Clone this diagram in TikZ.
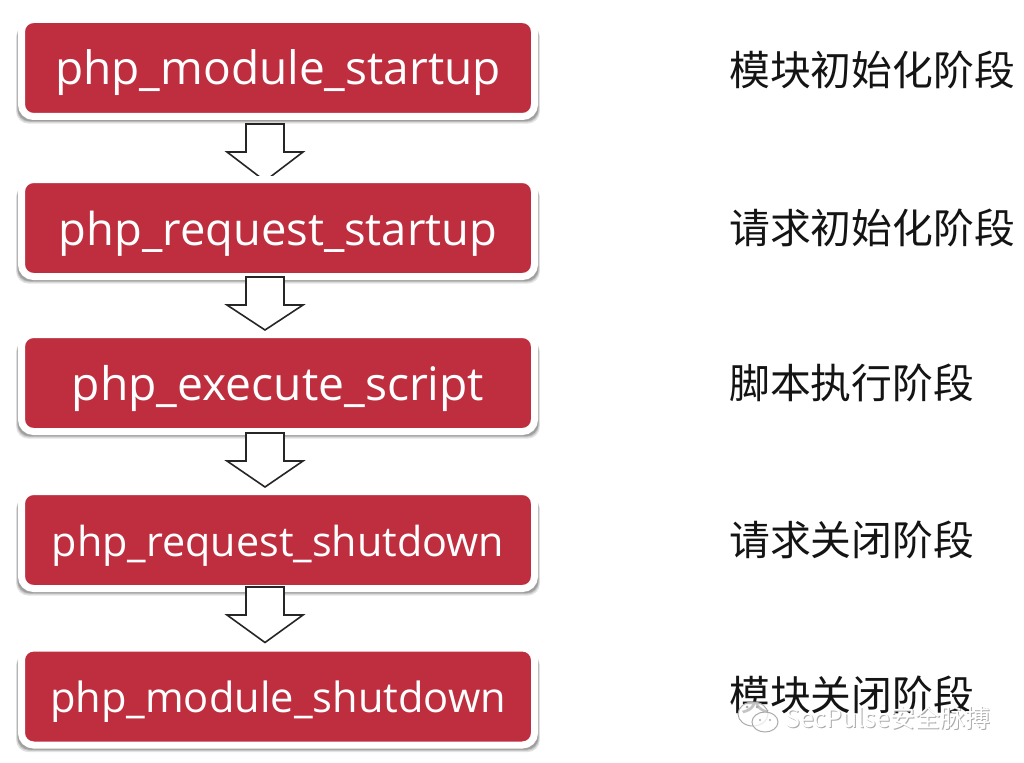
\documentclass[tikz,border=0pt]{standalone}
\usepackage{fontspec}
\setmainfont{Open Sans}
\newfontfamily\cjk{Noto Sans CJK SC}
\usetikzlibrary{shadows,calc}
\definecolor{boxred}{HTML}{BF2E3E}
\definecolor{wmgrey}{HTML}{ABABAB}
\pgfdeclarelayer{under}
\pgfdeclarelayer{over}
\pgfsetlayers{under,main,over}
\tikzset{
  x=1pt,y=-1pt,
  softshadow/.style 2 args={general shadow={shadow scale=#1,shadow xshift=0pt,shadow yshift=-#2,fill=black,opacity=.11}},
  stagebox/.style={rounded corners=12pt,draw=white,line width=7pt,fill=boxred,minimum width=513pt,minimum height=97pt,
    inner sep=0pt,text=white,softshadow={1.021}{6pt},softshadow={1.018}{5pt},softshadow={1.016}{4.2pt},softshadow={1.015}{3.8pt}},
  blockarrow/.style={draw=black!85,line width=1.6pt,fill=white,line join=miter},
  phaselabel/.style={anchor=west,inner sep=0pt,text=black!92,font=\cjk\fontsize{40.8}{46}\selectfont},
  wmtext/.style={anchor=west,inner sep=0pt,font=\cjk\fontsize{25}{28}\selectfont},
}
\newcommand{\boxfont}[1]{\fontsize{#1}{50}\selectfont}
% text set with its baseline the given distance below the box centre
\newcommand{\boxtext}[2]{\raisebox{-#1pt}[0pt][0pt]{#2}}
% from node, to node, top offset below the from-node, tip offset below the to-node's top
\newcommand{\blockarr}[4]{%
  \path[blockarrow] ($(#1.south)+(-32,#3)$) -- ($(#1.south)+(6,#3)$) -- ($(#1.south)+(6,#3+28)$) -- ($(#1.south)+(25,#3+28)$)
    -- ($(#2.north)+(-13,#4)$) -- ($(#1.south)+(-51,#3+28)$) -- ($(#1.south)+(-32,#3+28)$) -- cycle;}
\begin{document}
\begin{tikzpicture}
\begin{pgfonlayer}{under}
\fill[white] (0,0) rectangle (1024,762);
\end{pgfonlayer}
\useasboundingbox (0,0) rectangle (1024,762);
\node[stagebox,font=\boxfont{46}] (b1) at (278,68) {\boxtext{17}{php\_module\_startup}};
\node[stagebox,font=\boxfont{45.3}] (b2) at (278,228) {\boxtext{17}{php\_request\_startup}};
\node[stagebox,font=\boxfont{46.2}] (b3) at (278,383) {\boxtext{17}{php\_execute\_script}};
\node[stagebox,font=\boxfont{41.3}] (b4) at (278,540) {\boxtext{16}{php\_request\_shutdown}};
\node[stagebox,font=\boxfont{41.6}] (b5) at (278,696.5) {\boxtext{15.5}{php\_module\_shutdown}};
\begin{pgfonlayer}{under}
\blockarr{b1}{b2}{4}{5}
\end{pgfonlayer}
\begin{pgfonlayer}{over}
\blockarr{b2}{b3}{-3}{-1}
\blockarr{b3}{b4}{-2}{-1}
\blockarr{b4}{b5}{-5}{-2}
\end{pgfonlayer}
\node[phaselabel] (l1) at (729,70) {模块初始化阶段};
\node[phaselabel] (l2) at (729,228) {请求初始化阶段};
\node[phaselabel] (l3) at (729,383) {脚本执行阶段};
\node[phaselabel] (l4) at (729,540) {请求关闭阶段};
\node[phaselabel] (l5) at (729,695) {模块关闭阶段};
% watermark
\begin{scope}[draw=wmgrey,fill=white,fill opacity=.75,line width=1pt]
\filldraw (753,714) ellipse (15 and 12);
\filldraw (765,722) ellipse (13 and 10);
\end{scope}
\fill[wmgrey] (747,707) circle (1.5) (757,707) circle (1.5) (760,720) circle (1.2) (770,720) circle (1.2);
\node[wmtext,text=wmgrey] (w0) at (786,719) {SecPulse安全脉搏};
\node[wmtext,text=white] (w1) at (785,718) {SecPulse安全脉搏};
\end{tikzpicture}
\end{document}
